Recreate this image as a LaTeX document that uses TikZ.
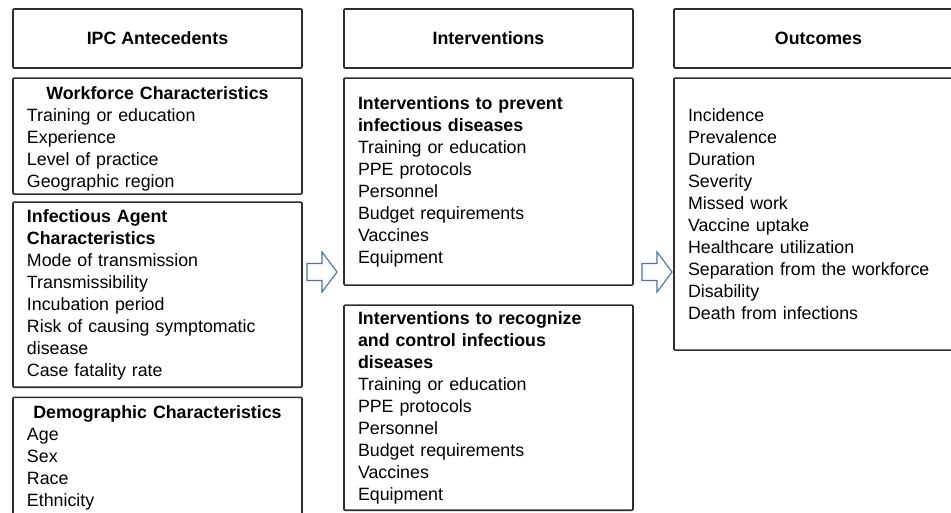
\documentclass[tikz,border=0pt]{standalone}
\usepackage{fontspec}
\setmainfont{Liberation Sans}
\usetikzlibrary{positioning}
\definecolor{boxline}{HTML}{2E2E2E}
\definecolor{arrowblue}{RGB}{80,110,168}
\newcommand{\boxhead}[1]{\makebox[\hsize][c]{\bfseries #1}\\}
\tikzset{
  hdr/.style={draw=boxline, line width=1.6pt, rounded corners=1pt,
    minimum width=289pt, minimum height=59pt,
    font=\bfseries\fontsize{17.8}{22}\selectfont},
  listbox/.style={draw=boxline, line width=1.6pt, rounded corners=1pt,
    text width=261pt, inner xsep=14pt, inner ysep=3pt, align=left,
    font=\fontsize{17.8}{22}\selectfont},
  blockarrow/.style={draw=arrowblue, line width=1.1pt, fill=white}
}
\begin{document}
\begin{tikzpicture}[x=1pt,y=-1pt]
  \useasboundingbox (0,0) rectangle (951,513);
  \node[hdr] (ipch) at (157.5,38.5) {IPC Antecedents};
  \node[hdr] (inth) at (488.5,38.5) {Interventions};
  \node[hdr] (outh) at (818.5,38.5) {Outcomes};
  % antecedents
  \node[listbox, inner ysep=2pt, minimum height=116pt, below=8.5pt of ipch] (work)
    {\rule{0pt}{19pt}\boxhead{Workforce Characteristics}Training or education\\
     Experience\\Level of practice\\Geographic region};
  \node[listbox, minimum height=185pt, below=6.5pt of work] (agent)
    {\textbf{Infectious Agent}\\\textbf{Characteristics}\\Mode of transmission\\
     Transmissibility\\Incubation period\\Risk of causing symptomatic\\disease\\
     Case fatality rate};
  \node[listbox, minimum height=121pt, below=8.5pt of agent] (demo)
    {\boxhead{Demographic Characteristics}Age\\Sex\\Race\\Ethnicity};
  % interventions
  \node[listbox, minimum height=207pt, below=8.5pt of inth] (prev)
    {\textbf{Interventions to prevent}\\\textbf{infectious diseases}\\
     Training or education\\PPE protocols\\Personnel\\Budget requirements\\
     Vaccines\\Equipment};
  \node[listbox, minimum height=205pt, below=18.5pt of prev] (recog)
    {\textbf{Interventions to recognize}\\\textbf{and control infectious}\\
     \textbf{diseases}\\Training or education\\PPE protocols\\Personnel\\
     Budget requirements\\Vaccines\\Equipment};
  % outcomes
  \node[listbox, minimum height=272pt, below=8.5pt of outh] (outc)
    {Incidence\\Prevalence\\Duration\\Severity\\Missed work\\Vaccine uptake\\
     Healthcare utilization\\Separation from the workforce\\Disability\\
     Death from infections};
  % block arrows
  \coordinate (arr1) at (307,272);
  \coordinate (arr2) at (642,272);
  \foreach \a in {arr1,arr2}
    \draw[blockarrow] (\a) ++(0,-8.5) -- ++(15,0) -- ++(0,-11.5) -- ++(15,20)
      -- ++(-15,20) -- ++(0,-11.5) -- ++(-15,0) -- cycle;
\end{tikzpicture}
\end{document}
